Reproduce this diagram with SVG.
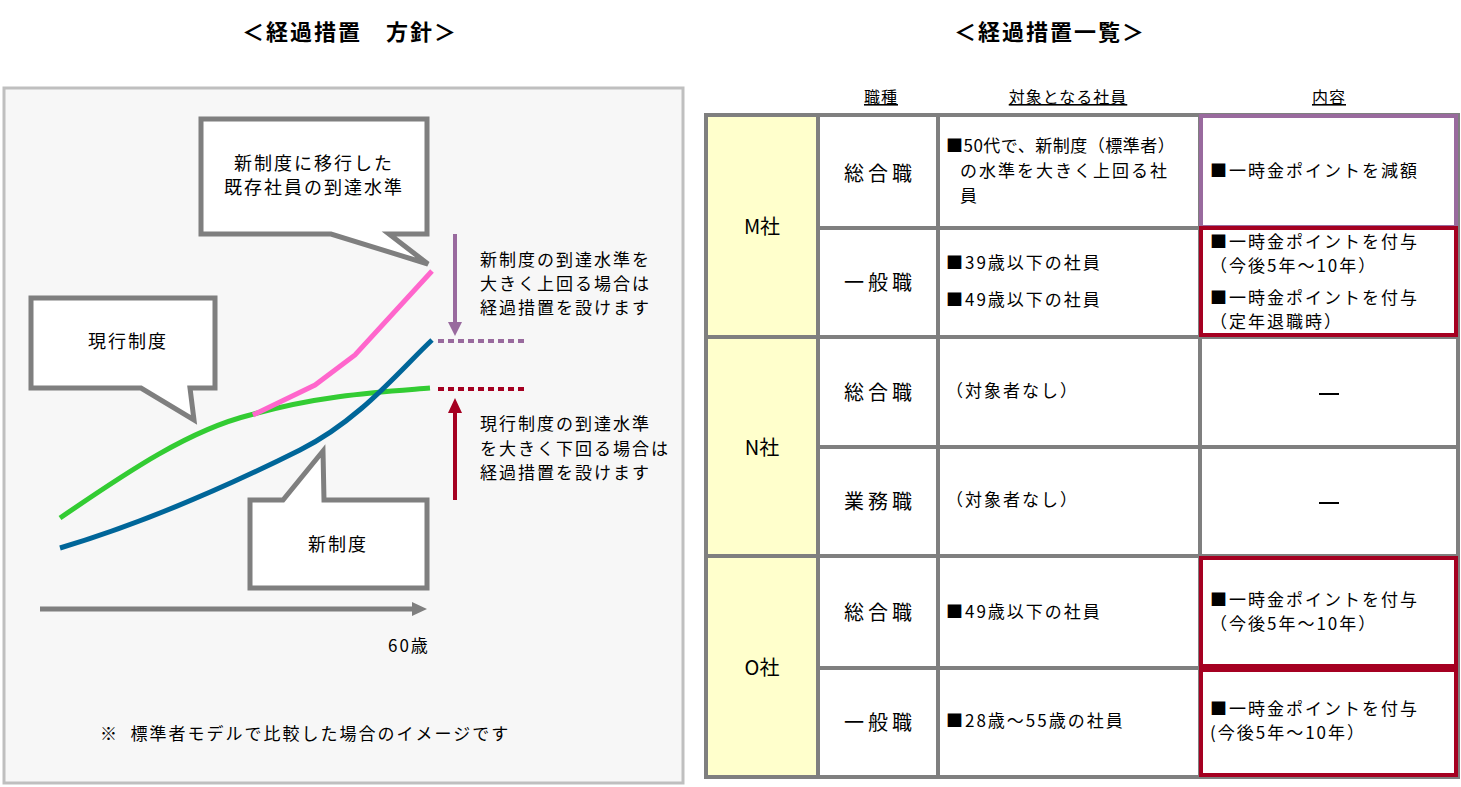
<svg xmlns="http://www.w3.org/2000/svg" width="1461" height="787" viewBox="0 0 1461 787">
<style>
text{font-family:"Noto Sans CJK JP","Liberation Sans",sans-serif;fill:#000}
.t{font-size:18px;text-anchor:middle;letter-spacing:2px}
.L{font-size:20px;text-anchor:middle;letter-spacing:4px}
.s{font-size:17px;letter-spacing:2px}
.u{font-size:16px;text-anchor:middle;letter-spacing:1px}
.h{font-size:22px;font-weight:bold;text-anchor:middle;letter-spacing:2px}
.cl{fill:#fff;stroke:#7f7f7f;stroke-width:5}
.g{stroke:#7f7f7f;stroke-width:4;fill:none}
</style>
<rect width="1461" height="787" fill="#fff"/>
<text class="h" x="350" y="40" xml:space="preserve">＜経過措置　方針＞</text>
<text class="h" x="1050" y="40">＜経過措置一覧＞</text>
<g id="panel"><rect x="4" y="88" width="679" height="695" fill="#f7f7f7" stroke="#bfbfbf" stroke-width="3"/></g>
<g id="connectors">
<path d="M60,518 C130,470 190,430 250,415 C320,395 380,392 430,388" stroke="#33cc33" stroke-width="5" fill="none"/>
<path d="M60,548 C120,530 200,500 300,450 C360,420 400,370 432,340" stroke="#006699" stroke-width="5" fill="none"/>
<path d="M253,415 L315,385 L355,355 L432,271" stroke="#ff66cc" stroke-width="5" fill="none"/>
<line x1="438" y1="341" x2="528" y2="341" stroke="#996a9e" stroke-width="4" stroke-dasharray="6,4"/>
<line x1="438" y1="389" x2="528" y2="389" stroke="#a50021" stroke-width="4" stroke-dasharray="6,4"/>
<line x1="455" y1="234" x2="455" y2="322" stroke="#996a9e" stroke-width="4"/>
<path d="M448,322L462,322L455,336z" fill="#996a9e"/>
<line x1="455" y1="500" x2="455" y2="413" stroke="#a50021" stroke-width="4"/>
<path d="M448,413L462,413L455,398z" fill="#a50021"/>
<line x1="40" y1="609" x2="413" y2="609" stroke="#7f7f7f" stroke-width="5"/>
<path d="M412,602L427,609L412,616z" fill="#7f7f7f"/>
</g>
<g id="callout-top"><path class="cl" d="M201,119H427V234H389L428,264L331,234H201Z"/>
<text class="t" x="314" y="170">新制度に移行した</text><text class="t" x="314" y="194">既存社員の到達水準</text></g>
<g id="callout-genko"><path class="cl" d="M31,298H215V388H190L194,420L141,388H31Z"/>
<text class="t" x="128" y="348">現行制度</text></g>
<g id="callout-shin"><path class="cl" d="M250,500H283L323,451L324,500H427V588H250Z"/>
<text class="t" x="338" y="551">新制度</text></g>
<text class="s" x="480" y="266">新制度の到達水準を</text>
<text class="s" x="480" y="290">大きく上回る場合は</text>
<text class="s" x="480" y="314">経過措置を設けます</text>
<text class="s" x="480" y="430">現行制度の到達水準</text>
<text class="s" x="480" y="455">を大きく下回る場合は</text>
<text class="s" x="480" y="479">経過措置を設けます</text>
<text class="s" x="388" y="652">60歳</text>
<text class="s" x="100" y="740" xml:space="preserve">※  標準者モデルで比較した場合のイメージです</text>
<g id="table">
<text class="u" x="881" y="103" text-decoration="underline">職種</text><text class="u" x="1068" y="103" text-decoration="underline">対象となる社員</text><text class="u" x="1329" y="103" text-decoration="underline">内容</text>
<rect x="706" y="115" width="112" height="662" fill="#ffffcc"/>
<g class="g">
<rect x="706" y="115" width="752" height="662"/>
<line x1="818" y1="115" x2="818" y2="777"/><line x1="938" y1="115" x2="938" y2="777"/><line x1="1200" y1="115" x2="1200" y2="777"/>
<line x1="818" y1="228" x2="1458" y2="228"/><line x1="818" y1="447" x2="1458" y2="447"/><line x1="818" y1="668" x2="1458" y2="668"/>
<line x1="706" y1="337" x2="1458" y2="337"/><line x1="706" y1="556" x2="1458" y2="556"/>
</g>
<rect x="1201" y="116" width="255" height="111" fill="none" stroke="#996a9e" stroke-width="4"/>
<rect x="1201" y="228" width="255" height="107" fill="none" stroke="#a50021" stroke-width="4"/>
<rect x="1201" y="558" width="255" height="108" fill="none" stroke="#a50021" stroke-width="4"/>
<rect x="1201" y="670" width="255" height="105" fill="none" stroke="#a50021" stroke-width="4"/>
<text class="L" x="762" y="234" style="letter-spacing:0">M社</text><text class="L" x="762" y="455" style="letter-spacing:0">N社</text><text class="L" x="762" y="675" style="letter-spacing:0">O社</text>
<text class="L" x="880" y="181">総合職</text><text class="L" x="880" y="290">一般職</text><text class="L" x="880" y="400">総合職</text><text class="L" x="880" y="509">業務職</text><text class="L" x="880" y="620">総合職</text><text class="L" x="880" y="730">一般職</text>
<text class="s" x="946" y="152" style="letter-spacing:0.5px">■50代で、新制度（標準者）</text><text class="s" x="960" y="177">の水準を大きく上回る社</text><text class="s" x="960" y="202">員</text>
<text class="s" x="946" y="269">■39歳以下の社員</text><text class="s" x="946" y="306">■49歳以下の社員</text>
<text class="s" x="946" y="397">（対象者なし）</text><text class="s" x="946" y="506">（対象者なし）</text>
<text class="s" x="946" y="618">■49歳以下の社員</text><text class="s" x="946" y="727">■28歳～55歳の社員</text>
<text class="s" x="1210" y="177">■一時金ポイントを減額</text>
<text class="s" x="1210" y="248">■一時金ポイントを付与</text><text class="s" x="1210" y="272">（今後5年～10年）</text>
<text class="s" x="1210" y="304">■一時金ポイントを付与</text><text class="s" x="1210" y="328">（定年退職時）</text>
<rect x="1319" y="393" width="20" height="2"/><rect x="1319" y="502" width="20" height="2"/>
<text class="s" x="1210" y="606">■一時金ポイントを付与</text><text class="s" x="1210" y="630">（今後5年～10年）</text>
<text class="s" x="1210" y="715">■一時金ポイントを付与</text><text class="s" x="1210" y="739">(今後5年～10年）</text>
</g>
</svg>
